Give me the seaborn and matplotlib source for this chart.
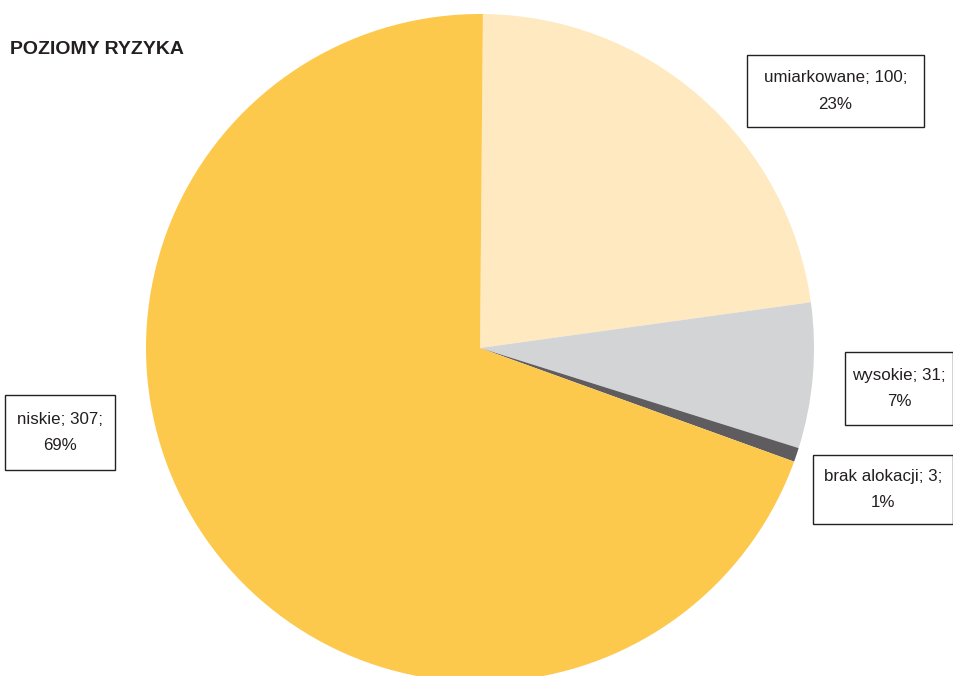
import matplotlib
matplotlib.use("Agg")
import matplotlib.pyplot as plt
import seaborn as sns
from matplotlib.patches import Rectangle

sns.set_theme(style="white")
plt.rcParams['font.family'] = ['Liberation Sans', 'DejaVu Sans']

categories = ["umiarkowane", "wysokie", "brak alokacji", "niskie"]
values = [100, 31, 3, 307]
percents = ["23%", "7%", "1%", "69%"]
colors = ["#FEE9C0", "#D3D4D6", "#5E5C5E", "#FDC94C"]
title = "POZIOMY RYZYKA"

W, H = 954, 676
fig = plt.figure(figsize=(W / 100, H / 100), dpi=100)
fig.patch.set_facecolor("white")

cx, cy, r = 480, 348, 334
ax = fig.add_axes([(cx - r) / W, (H - cy - r) / H, 2 * r / W, 2 * r / H])
ax.pie(values, colors=colors, startangle=89.5, counterclock=False,
       wedgeprops=dict(linewidth=0, antialiased=True))
ax.set_xlim(-1, 1)
ax.set_ylim(-1, 1)
ax.set_aspect("equal")
ax.axis("off")

# label boxes: (x0, y0, x1, y1) in pixels from top-left
boxes = [(747, 55, 924, 127), (845, 352, 953, 425), (813, 455, 953, 524), (5, 395, 115, 470)]
for cat, val, pct, (x0, y0, x1, y1) in zip(categories, values, percents, boxes):
    rect = Rectangle((x0 / W, 1 - y1 / H), (x1 - x0) / W, (y1 - y0) / H,
                     transform=fig.transFigure, facecolor="white",
                     edgecolor="#222222", linewidth=1.0, zorder=5)
    fig.add_artist(rect)
    xc = (x0 + x1) / 2 / W
    yc = 1 - (y0 + y1) / 2 / H
    fig.text(xc, yc, f"{cat}; {val};\n{pct}", ha="center", va="center",
             fontsize=12.2, color="#231F20", linespacing=1.95, zorder=6)

fig.text(10 / W, 1 - 49 / H, title, ha="left", va="center", fontsize=14,
         fontweight="bold", color="#231F20")

fig.savefig("out.png", dpi=100, facecolor="white")
